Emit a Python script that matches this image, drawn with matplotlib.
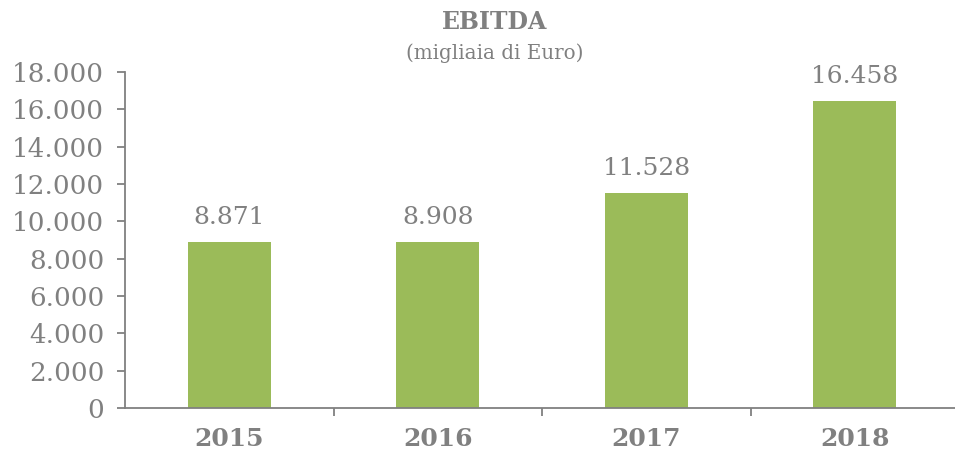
import matplotlib
matplotlib.use("Agg")
import matplotlib.pyplot as plt
from matplotlib.ticker import FixedLocator, FuncFormatter

years = ["2015", "2016", "2017", "2018"]
ebitda = [8871, 8908, 11528, 16458]
value_labels = ["8.871", "8.908", "11.528", "16.458"]
yticks = [0, 2000, 4000, 6000, 8000, 10000, 12000, 14000, 16000, 18000]

GRAY = "#808080"
GREEN = "#9BBB59"

fig = plt.figure(figsize=(9.55, 4.53), dpi=100)
ax = fig.add_axes([125/955, 1-408/453, 834/955, 336/453])

x = list(range(len(years)))
ax.bar(x, ebitda, width=0.40, color=GREEN, zorder=2)

for xi, v, lab in zip(x, ebitda, value_labels):
    ax.annotate(lab, (xi, v), xytext=(0, 13), textcoords="offset points",
                ha="center", va="baseline", fontsize=18, color=GRAY,
                family="DejaVu Serif")

ax.set_xlim(-0.5, len(years) - 0.5)
ax.set_ylim(0, 18000)
ax.set_yticks(yticks)
ax.yaxis.set_major_formatter(FuncFormatter(lambda v, p: f"{int(v):,}".replace(",", ".")))

ax.set_xticks(x)
ax.set_xticklabels(years)
ax.xaxis.set_minor_locator(FixedLocator([i + 0.5 for i in range(len(years) - 1)]))
ax.tick_params(axis="x", which="major", length=0, pad=14)
ax.tick_params(axis="x", which="minor", length=6, width=1.3, color=GRAY, direction="out")
ax.tick_params(axis="y", length=6, width=1.3, color=GRAY, direction="out", pad=9)

for lab in ax.get_xticklabels():
    lab.set_family("DejaVu Serif")
    lab.set_fontweight("bold")
    lab.set_fontsize(18)
    lab.set_color(GRAY)
for lab in ax.get_yticklabels():
    lab.set_family("DejaVu Serif")
    lab.set_fontsize(18.8)
    lab.set_color(GRAY)

for side in ["top", "right"]:
    ax.spines[side].set_visible(False)
for side in ["left", "bottom"]:
    ax.spines[side].set_color(GRAY)
    ax.spines[side].set_linewidth(1.3)

fig.text(495/955, 1-22/453, "EBITDA", ha="center", va="center", fontsize=17,
         fontweight="bold", color=GRAY, family="DejaVu Serif")
fig.text(495/955, 1-53/453, "(migliaia di Euro)", ha="center", va="center",
         fontsize=14.3, color=GRAY, family="DejaVu Serif")

fig.savefig("out.png", dpi=100)
